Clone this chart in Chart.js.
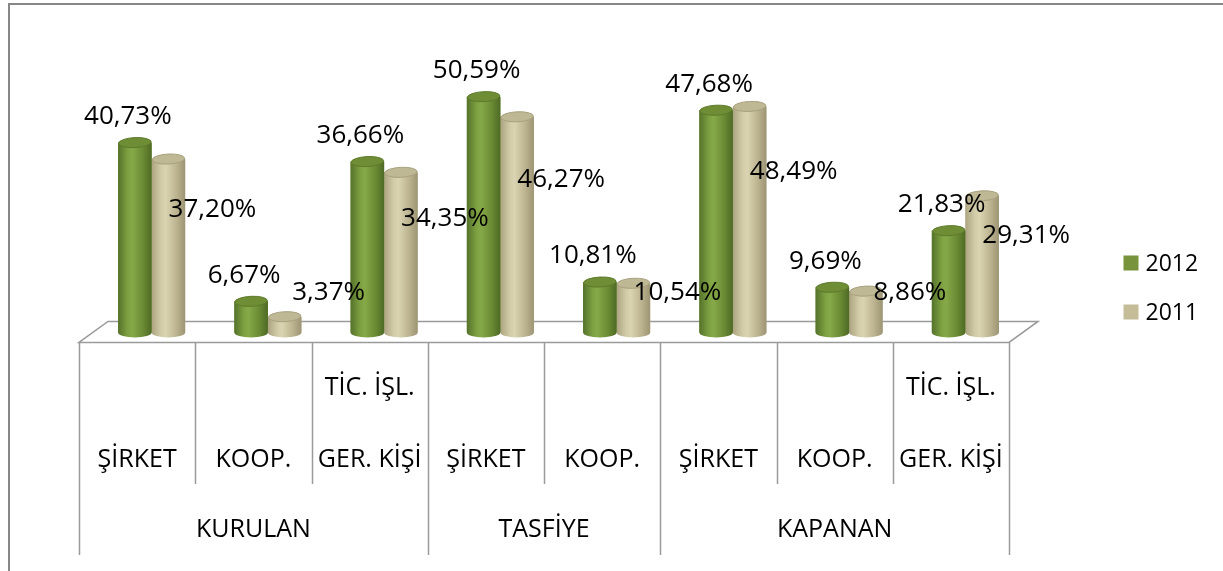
<!DOCTYPE html>
<html>
<head>
<meta charset="utf-8">
<title>Kurulan / Tasfiye / Kapanan</title>
<script src="https://cdn.jsdelivr.net/npm/chart.js@4.4.1/dist/chart.umd.min.js"></script>
<style>
  body { margin: 0; background: #fff; }
  canvas { display: block; }
</style>
</head>
<body>
<canvas id="chart" width="1223" height="571"></canvas>
<script>
// category labels (one array per category, lines top to bottom)
const categories = [
  ['ŞİRKET'], ['KOOP.'], ['TİC. İŞL.', 'GER. KİŞİ'],
  ['ŞİRKET'], ['KOOP.'],
  ['ŞİRKET'], ['KOOP.'], ['TİC. İŞL.', 'GER. KİŞİ']
];
const groups = ['KURULAN', 'TASFİYE', 'KAPANAN'];
const groupSizes = [3, 2, 3];
const seriesNames = ['2012', '2011'];
const values2012 = [40.73, 6.67, 36.66, 50.59, 10.81, 47.68, 9.69, 21.83];
const values2011 = [37.20, 3.37, 34.35, 46.27, 10.54, 48.49, 8.86, 29.31];

const FONT = '"Open Sans", "Liberation Sans", sans-serif';
const DEPTH_X = 29, DEPTH_Y = 21;   // floor depth of the 3d look
const SHIFT = DEPTH_X / 2;          // bars sit in the middle of the floor

const colors = {
  '2012': { flat: '#77933c', stops: ['#55722b', '#7c9f40', '#86a948', '#6a8a33', '#4e6a25'], top: '#6e8d35', topEdge: '#5d7a2b' },
  '2011': { flat: '#c4bd97', stops: ['#aca481', '#d2cba7', '#dbd4b2', '#bbb38f', '#9c9473'], top: '#bfb894', topEdge: '#a8a07e' }
};

function fmt(v) {
  return v.toFixed(2).replace('.', ',') + '%';
}

function bodyGradient(ctx, left, right, stops) {
  const g = ctx.createLinearGradient(left, 0, right, 0);
  g.addColorStop(0, stops[0]);
  g.addColorStop(0.28, stops[1]);
  g.addColorStop(0.42, stops[2]);
  g.addColorStop(0.75, stops[3]);
  g.addColorStop(1, stops[4]);
  return g;
}

const cylinders = {
  id: 'cylinders',
  beforeDatasetsDraw(chart) {
    // the floor of the 3d plot
    const ctx = chart.ctx;
    const area = chart.chartArea;
    const base = chart.scales.y.getPixelForValue(0);
    const fl = area.left - SHIFT, fr = area.right - SHIFT;
    const fy = base + 10, by = fy - DEPTH_Y;
    ctx.save();
    ctx.strokeStyle = '#9a9a9a';
    ctx.lineWidth = 1.5;
    ctx.beginPath();
    ctx.moveTo(fl, fy);
    ctx.lineTo(fl + DEPTH_X, by);
    ctx.lineTo(fr + DEPTH_X, by);
    ctx.lineTo(fr, fy);
    ctx.closePath();
    ctx.stroke();
    ctx.restore();
  },
  afterDatasetDraw(chart, args) {
    // shade each bar the library placed into a cylinder
    const ctx = chart.ctx;
    const meta = args.meta;
    const c = colors[chart.data.datasets[meta.index].label];
    ctx.save();
    meta.data.forEach(el => {
      const rx = el.width / 2, ry = 5;
      const left = el.x - rx, right = el.x + rx;
      ctx.fillStyle = bodyGradient(ctx, left, right, c.stops);
      ctx.beginPath();
      ctx.moveTo(left, el.y);
      ctx.lineTo(left, el.base);
      ctx.ellipse(el.x, el.base, rx, ry, 0, Math.PI, 0, true);
      ctx.lineTo(right, el.y);
      ctx.closePath();
      ctx.fill();
      // top cap
      ctx.fillStyle = c.top;
      ctx.strokeStyle = c.topEdge;
      ctx.lineWidth = 1;
      ctx.beginPath();
      ctx.ellipse(el.x, el.y, rx - 0.5, ry, -0.05, 0, Math.PI * 2);
      ctx.fill();
      ctx.stroke();
    });
    ctx.restore();
  },
  afterDraw(chart) {
    const ctx = chart.ctx;
    const area = chart.chartArea;
    const xs = chart.scales.x;
    const base = chart.scales.y.getPixelForValue(0);
    const fy = base + 10;
    const step = (area.right - area.left) / categories.length;
    const edge = i => area.left - SHIFT + step * i;

    ctx.save();
    // table lines under the floor
    ctx.strokeStyle = '#9a9a9a';
    ctx.lineWidth = 1.5;
    const groupEdges = [0];
    groupSizes.forEach(s => groupEdges.push(groupEdges[groupEdges.length - 1] + s));
    for (let i = 0; i <= categories.length; i++) {
      const x = Math.round(edge(i)) + 0.5;
      ctx.beginPath();
      ctx.moveTo(x, fy);
      ctx.lineTo(x, groupEdges.includes(i) ? 555 : 484);
      ctx.stroke();
    }

    // category labels
    ctx.fillStyle = '#000';
    ctx.textAlign = 'center';
    ctx.textBaseline = 'middle';
    ctx.font = '25px ' + FONT;
    categories.forEach((lines, i) => {
      const cx = xs.getPixelForValue(i) - SHIFT;
      lines.forEach((t, k) => {
        ctx.fillText(t, cx, 460 - 72 * (lines.length - 1 - k));
      });
    });
    // group labels
    groups.forEach((g, j) => {
      const cx = (edge(groupEdges[j]) + edge(groupEdges[j + 1])) / 2;
      ctx.fillText(g, cx, 530);
    });

    // value labels
    ctx.font = '26px ' + FONT;
    chart.data.datasets.forEach((ds, di) => {
      const meta = chart.getDatasetMeta(di);
      meta.data.forEach((el, i) => {
        const text = fmt(ds.data[i]);
        if (di === 0) {
          ctx.fillText(text, el.x - 7, el.y - 26);
        } else {
          const y = Math.min(el.base + 0.71 * (el.y - el.base), el.base - 40);
          ctx.fillText(text, el.x + 44, y);
        }
      });
    });

    // legend
    ctx.textAlign = 'left';
    ctx.font = '23px ' + FONT;
    chart.data.datasets.forEach((ds, di) => {
      const lx = area.right + 100, ly = 263 + 49 * di;
      ctx.fillStyle = colors[ds.label].flat;
      ctx.fillRect(lx, ly - 7.5, 15, 15);
      ctx.fillStyle = '#000';
      ctx.fillText(ds.label, lx + 22, ly + 1);
    });

    // outer frame
    ctx.strokeStyle = '#878787';
    ctx.lineWidth = 2;
    ctx.strokeRect(9, 4, 1240, 600);
    ctx.restore();
  }
};

new Chart(document.getElementById('chart'), {
  type: 'bar',
  data: {
    labels: categories.map(c => c.join(' ')),
    datasets: [
      { label: seriesNames[0], data: values2012, backgroundColor: colors['2012'].flat },
      { label: seriesNames[1], data: values2011, backgroundColor: colors['2011'].flat }
    ]
  },
  options: {
    responsive: false,
    devicePixelRatio: 1,
    animation: false,
    layout: { padding: { left: 93.5, right: 199.5, top: 52.8, bottom: 238.6 } },
    datasets: { bar: { categoryPercentage: 0.577, barPercentage: 1, borderWidth: 0 } },
    scales: {
      x: { display: false },
      y: { display: false, min: 0, max: 60 }
    },
    plugins: {
      legend: { display: false },
      tooltip: { enabled: false }
    }
  },
  plugins: [cylinders]
});
</script>
</body>
</html>
